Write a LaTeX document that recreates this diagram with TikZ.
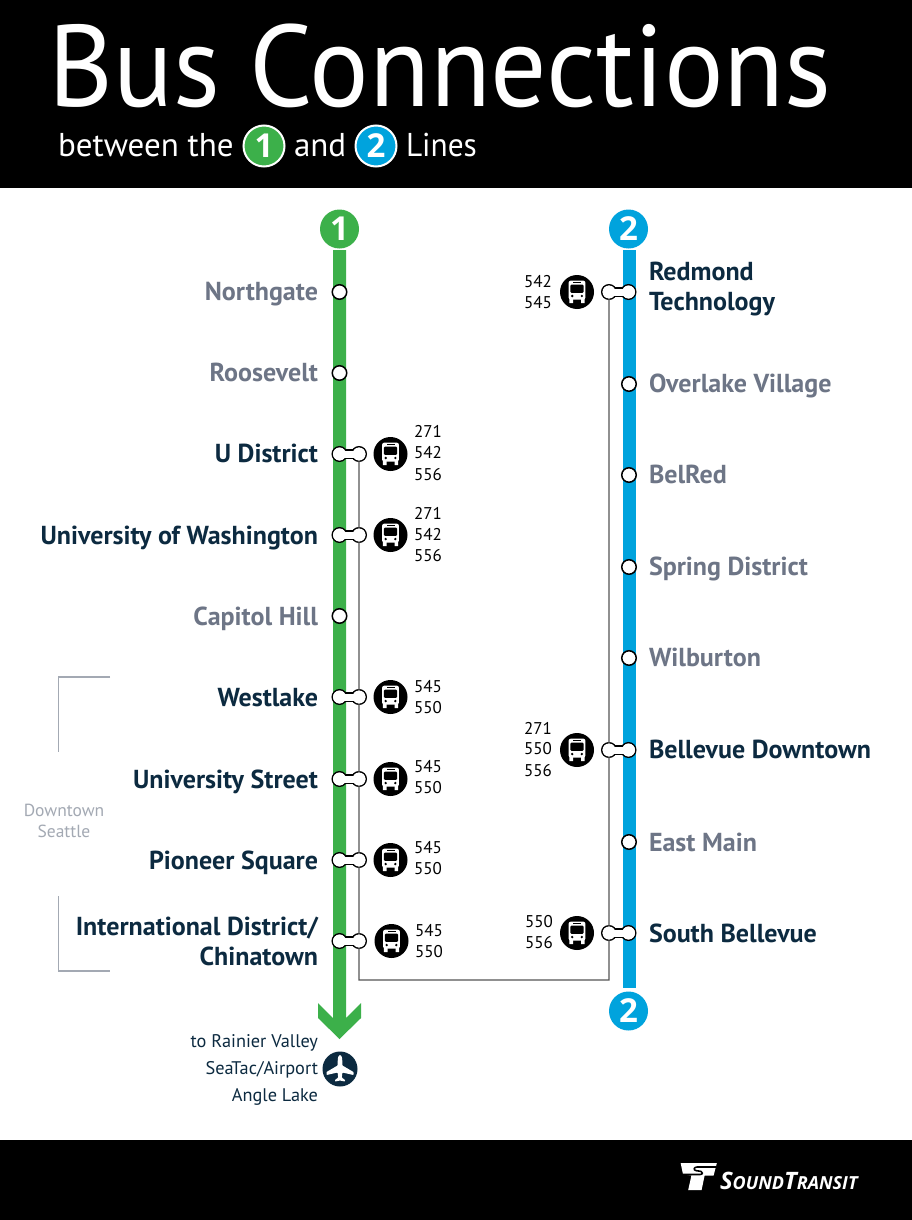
\documentclass[tikz,border=0pt]{standalone}
\usepackage{fontspec}
\setmainfont{PT Sans}
\newfontfamily\logofont{Open Sans}
\definecolor{navy}{HTML}{0C2A40}
\definecolor{stopgrey}{HTML}{6D7586}
\definecolor{lineone}{HTML}{3CB04A}
\definecolor{linetwo}{HTML}{00A3DD}
\definecolor{bracketgrey}{HTML}{A3A9B3}
\definecolor{linkgrey}{HTML}{555555}
\tikzset{
  px/.style={inner sep=0pt,outer sep=0pt},
  major/.style={px,font=\fontsize{26}{26}\selectfont\bfseries,text=navy},
  minor/.style={px,font=\fontsize{26}{26}\selectfont\bfseries,text=stopgrey},
  route/.style={px,font=\fontsize{17}{17}\selectfont,text=black},
  dest/.style={px,font=\fontsize{18.3}{18.3}\selectfont,text=navy,anchor=east},
  subt/.style={px,font=\fontsize{33}{33}\selectfont,text=white},
  stopdot/.style={circle,draw=black,fill=white,line width=1.5pt,minimum size=14.5pt,px},
  linkline/.style={draw=linkgrey,line width=1.3pt},
  bracket/.style={draw=bracketgrey,line width=1.5pt},
  lineball/.style={circle,minimum size=39pt,px,text=white,font=\logofont\fontsize{33}{33}\selectfont\bfseries},
  smallball/.style={circle,draw=white,line width=2pt,minimum size=41pt,px,text=white,font=\logofont\fontsize{33}{33}\selectfont\bfseries},
}
\newcommand{\bone}[3]{% name, x of the free stop, y
  \node[stopdot] (#1a) at (#2,#3) {};
  \node[stopdot] (#1b) at ({#2+19.5},#3) {};
}
\newcommand{\bonewaist}[1]{%
  \draw[line width=10pt,black] (#1a.center) -- (#1b.center);
  \fill[white] (#1a.center) circle (6.5pt) (#1b.center) circle (6.5pt);
  \draw[line width=7pt,white] (#1a.center) -- (#1b.center);
}
\newcommand{\busicon}[3]{% name,x,y
  \node[circle,fill=black,minimum size=34pt,px] (#1) at (#2,#3) {};
  \begin{scope}[shift={(#1.center)}]
    \fill[white,rounded corners=2pt] (-8.4,-11.3) rectangle (8.4,7.5);
    \fill[white] (-7.6,7) rectangle (-4,11) (4,7) rectangle (7.6,11);
    \fill[black,rounded corners=1pt] (-6.6,-7.3) rectangle (6.6,0.8);
    \fill[black] (-4,-9.9) rectangle (4,-8.9);
    \fill[black] (-4.8,4) circle (1.3pt) (4.8,4) circle (1.3pt);
  \end{scope}
}
\begin{document}
\begin{tikzpicture}[x=1pt,y=-1pt]
\useasboundingbox (0,0) rectangle (912,1220);
\fill[white] (0,0) rectangle (912,1220);
\fill[black] (0,0) rectangle (912,188);
\fill[black] (0,1140) rectangle (912,1220);
% title
\node[px,anchor=base west,text=white,xscale=0.96,font=\fontsize{116}{116}\selectfont] (title) at (48,107) {Bus Connections};
\node[subt,anchor=base west] (sub1) at (58,157) {between the};
\node[smallball,fill=lineone] (ball1) at (264,146) {1};
\node[subt,anchor=base west] (sub2) at (294,157) {and};
\node[smallball,fill=linetwo] (ball2) at (376,146) {2};
\node[subt,anchor=base west,xscale=0.95] (sub3) at (406,157) {Lines};
% lines
\fill[lineone] (333,250) -- (346,250) -- (346,1018) -- (361,1003) -- (361,1018) -- (339.5,1039) -- (318,1018) -- (318,1003) -- (333,1018) -- cycle;
\fill[linetwo] (622.8,250) rectangle (636,988);
\node[lineball,fill=lineone] (top1) at (339.5,229) {1};
\node[lineball,fill=linetwo] (top2) at (628.5,229) {2};
\node[lineball,fill=linetwo] (bot2) at (628.5,1011) {2};
% transfer bones
\bone{ud}{339.5}{454}
\bone{uw}{339.5}{535}
\bone{wl}{339.5}{697}
\bone{us}{339.5}{779}
\bone{ps}{339.5}{860}
\bone{id}{339.5}{941}
\bone{rt}{609}{292}
\bone{bd}{609}{750}
\bone{sb}{609}{933}
\coordinate (corA) at (358.9,980);
\coordinate (corB) at (609,980);
\draw[linkline] (udb.center) -- (corA) -- (corB) -- (rta.center);
\foreach \n in {ud,uw,wl,us,ps,id,rt,bd,sb}{\bonewaist{\n}}
% plain stops
\foreach \n/\x/\y in {ng/339.5/292,rv/339.5/373,ch/339.5/616,ol/629/384,br/629/475,sd/629/567,wb/629/658,em/629/842}
  \node[stopdot] (\n) at (\x,\y) {};
% left names
\node[minor,anchor=base east] (tng) at (318,300) {Northgate};
\node[minor,anchor=base east] (trv) at (318,381) {Roosevelt};
\node[major,anchor=base east] (tud) at (318,462.5) {U District};
\node[major,anchor=base east] (tuw) at (318,544) {University of Washington};
\node[minor,anchor=base east] (tch) at (318,625) {Capitol Hill};
\node[major,anchor=base east] (twl) at (318,706) {Westlake};
\node[major,anchor=base east] (tus) at (318,788) {University Street};
\node[major,anchor=base east] (tps) at (318,869) {Pioneer Square};
\node[major,anchor=east,align=right,font=\fontsize{26}{30}\selectfont\bfseries] (tid) at (318,941.5) {International District/\\Chinatown};
% right names
\node[major,anchor=west,align=left,font=\fontsize{26}{30}\selectfont\bfseries] (trt) at (649,289.5) {Redmond\\Technology};
\node[minor,anchor=base west] (tol) at (649,392) {Overlake Village};
\node[minor,anchor=base west] (tbr) at (649,483) {BelRed};
\node[minor,anchor=base west] (tsd) at (649,575) {Spring District};
\node[minor,anchor=base west] (twb) at (649,666) {Wilburton};
\node[major,anchor=base west] (tbd) at (649,758) {Bellevue Downtown};
\node[minor,anchor=base west] (tem) at (649,851) {East Main};
\node[major,anchor=base west] (tsb) at (649,942) {South Bellevue};
% buses
\busicon{bud}{390.5}{454}
\busicon{buw}{390.5}{535}
\busicon{bwl}{390.5}{697}
\busicon{bus}{390.5}{779}
\busicon{bps}{390.5}{860}
\busicon{bid}{391.5}{941}
\busicon{brt}{577}{292}
\busicon{bbd}{577}{750}
\busicon{bsb}{577}{933}
% routes
\node[route,anchor=west] (r1) at (414,431) {271};
\node[route,anchor=west] (r2) at (414,453) {542};
\node[route,anchor=west] (r3) at (414,475) {556};
\node[route,anchor=west] (r4) at (414,513) {271};
\node[route,anchor=west] (r5) at (414,535) {542};
\node[route,anchor=west] (r6) at (414,556) {556};
\node[route,anchor=west] (r7) at (414,687) {545};
\node[route,anchor=west] (r8) at (414,708) {550};
\node[route,anchor=west] (r9) at (414,767) {545};
\node[route,anchor=west] (r10) at (414,788) {550};
\node[route,anchor=west] (r11) at (414,848) {545};
\node[route,anchor=west] (r12) at (414,869) {550};
\node[route,anchor=west] (r13) at (415,931) {545};
\node[route,anchor=west] (r14) at (415,952) {550};
\node[route,anchor=east] (r15) at (552,282) {542};
\node[route,anchor=east] (r16) at (552,303) {545};
\node[route,anchor=east] (r17) at (552,728) {271};
\node[route,anchor=east] (r18) at (552,749) {550};
\node[route,anchor=east] (r19) at (552,771) {556};
\node[route,anchor=east] (r20) at (553,922) {550};
\node[route,anchor=east] (r21) at (553,943) {556};
% destination
\node[dest] (d1) at (318,1042.5) {to Rainier Valley};
\node[dest] (d2) at (318,1069.5) {SeaTac/Airport};
\node[dest] (d3) at (318,1096.5) {Angle Lake};
\node[circle,fill=navy,minimum size=35pt,px] (plane) at (340,1069) {};
\begin{scope}[shift={(plane.center)}]
\fill[white,rounded corners=0.6pt] (0,-13.5) .. controls (1.8,-13.5) and (2.4,-10) .. (2.4,-6.5) -- (2.4,-3.5) -- (13.5,3) -- (13.5,6) -- (2.4,3.5) -- (1.8,8.5) -- (5,11) -- (5,12.5) -- (0,11.5) -- (-5,12.5) -- (-5,11) -- (-1.8,8.5) -- (-2.4,3.5) -- (-13.5,6) -- (-13.5,3) -- (-2.4,-3.5) -- (-2.4,-6.5) .. controls (-2.4,-10) and (-1.8,-13.5) .. (0,-13.5) -- cycle;
\end{scope}
% brackets
\coordinate (b1a) at (110,677);
\coordinate (b1b) at (58.5,677);
\coordinate (b1c) at (58.5,752);
\coordinate (b2a) at (58.5,896);
\coordinate (b2b) at (58.5,971);
\coordinate (b2c) at (110,971);
\draw[bracket] (b1a) -- (b1b) -- (b1c);
\draw[bracket] (b2a) -- (b2b) -- (b2c);
\node[px,text=bracketgrey,font=\fontsize{17.5}{21}\selectfont,align=center] (dt) at (64,821) {Downtown\\Seattle};
% logo
\fill[white] (680.7,1163.2) -- (716.8,1163.2) -- (713.6,1175.5) -- (704.6,1175.5) -- (701.6,1190) -- (688.2,1190) -- (691.4,1175.5) -- (683,1174.4) -- cycle;
\draw[black,line width=1.6pt,line join=round] (716.5,1167) -- (697,1167) .. controls (694,1167) and (693,1170) .. (696,1170.6) -- (701,1171.4) .. controls (703,1172) and (703,1174.5) .. (700,1174.5) -- (682,1174.5);
\node[px,anchor=base west,text=white,font=\logofont\bfseries\itshape\fontsize{24}{24}\selectfont] (logo) at (720,1189) {S{\fontsize{18}{18}\selectfont OUND}T{\fontsize{18}{18}\selectfont RANSIT}};
\end{tikzpicture}
\end{document}
